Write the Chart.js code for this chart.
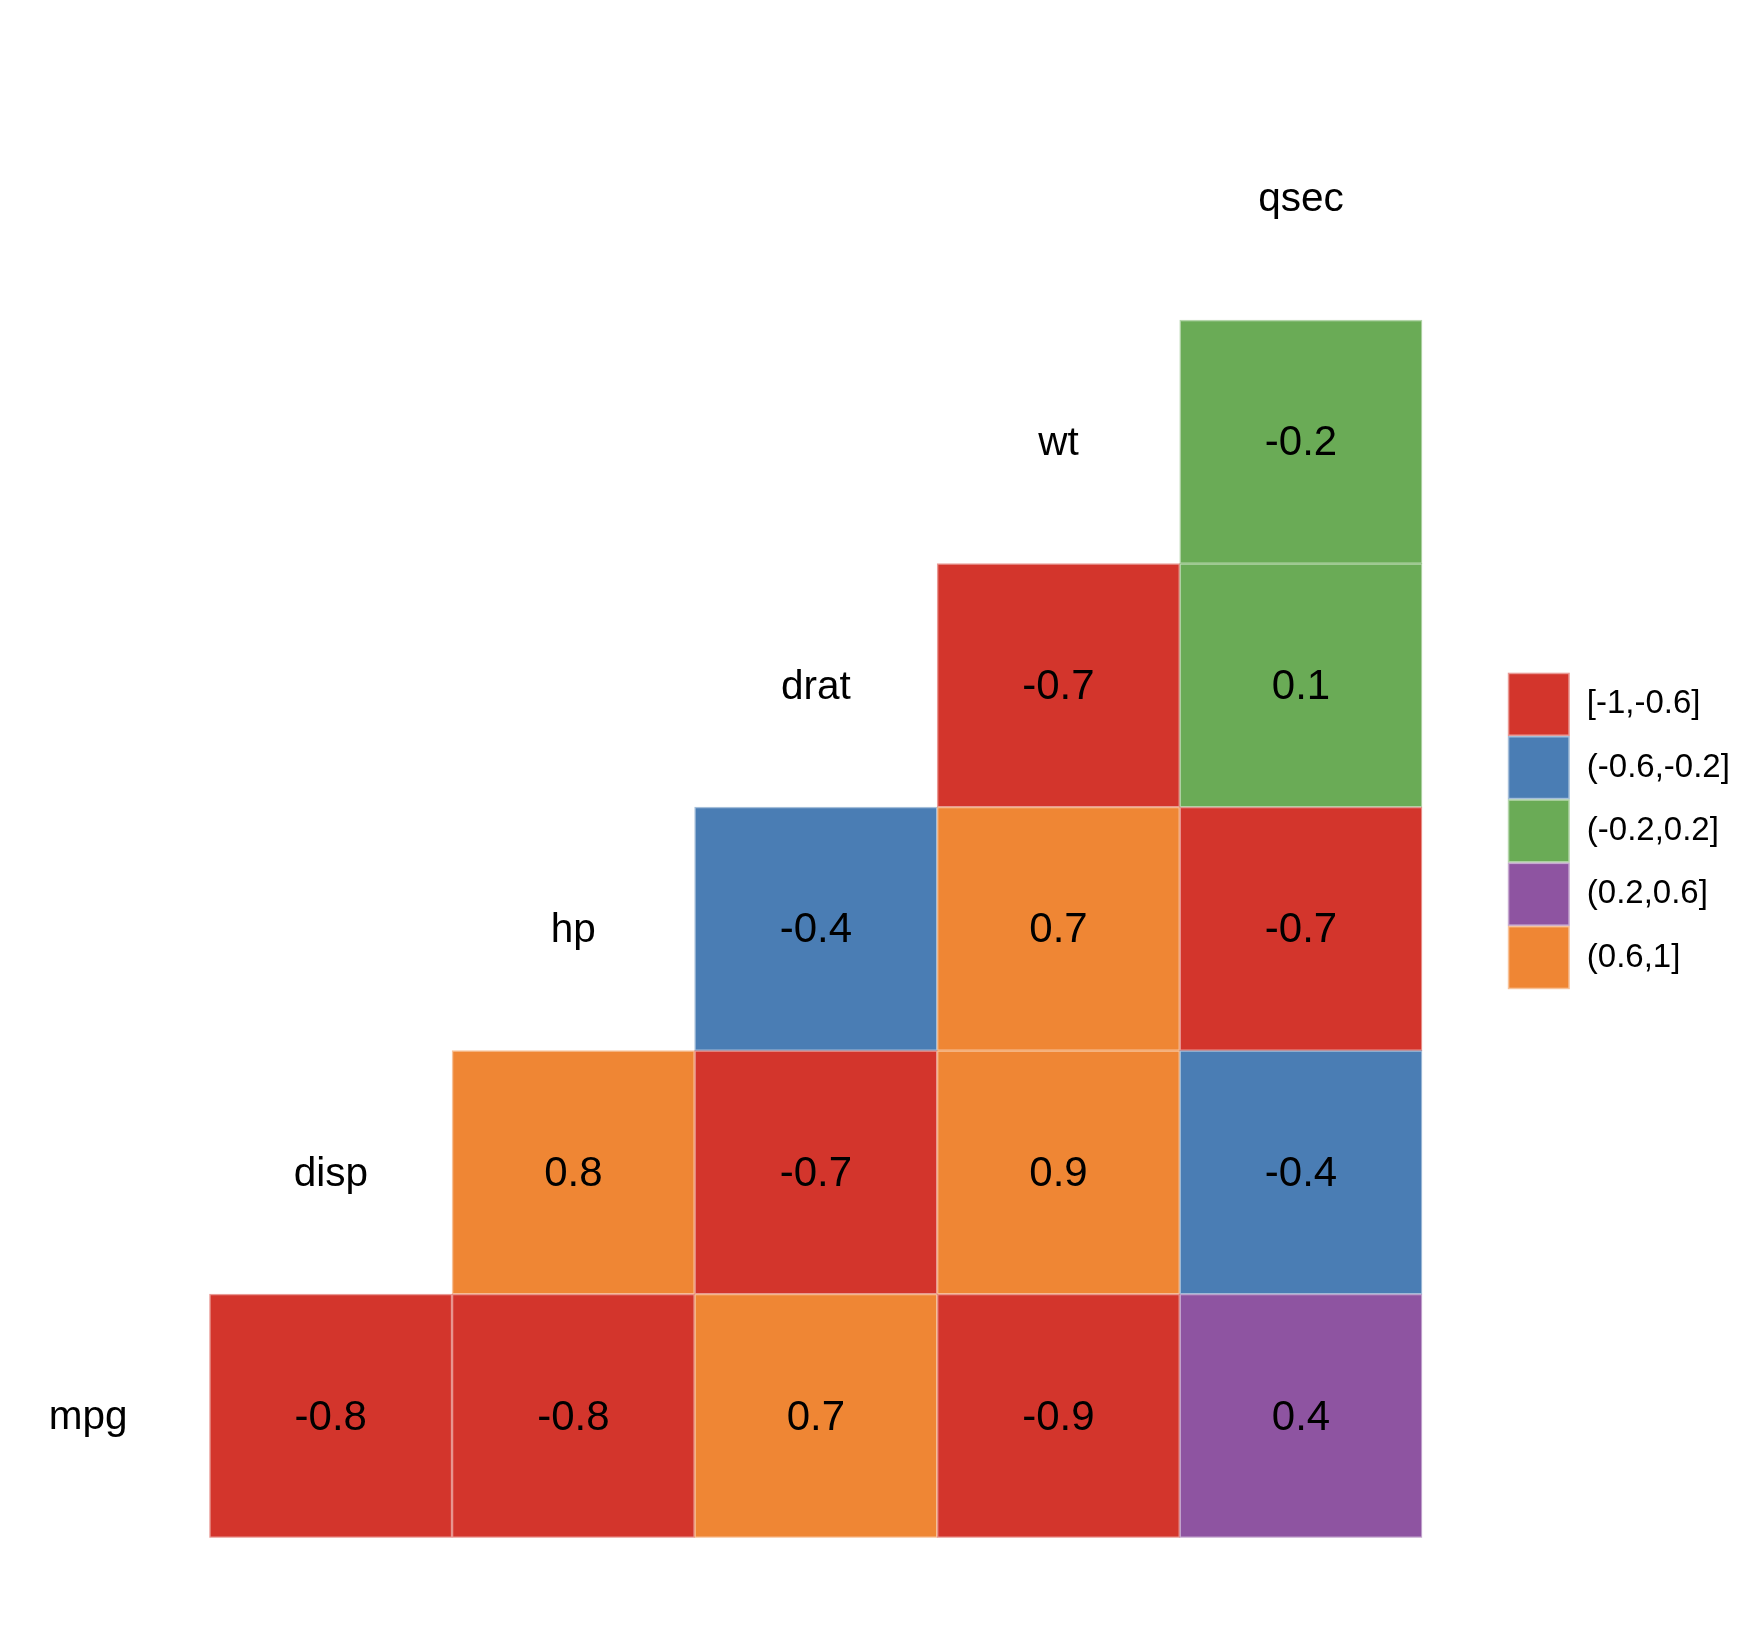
<!DOCTYPE html>
<html>
<head>
<meta charset="utf-8">
<title>Correlation matrix</title>
<script src="https://cdn.jsdelivr.net/npm/chart.js@4/dist/chart.umd.min.js"></script>
<style>
  html, body { margin: 0; padding: 0; background: #fff; }
  #wrap { width: 1738px; height: 1636px; }
</style>
</head>
<body>
<div id="wrap"><canvas id="corr" width="1738" height="1636"></canvas></div>
<script>
const variables = ['mpg', 'disp', 'hp', 'drat', 'wt', 'qsec'];

// correlation of each row variable with the variables to its right
const corrMpg = [-0.8, -0.8, 0.7, -0.9, 0.4];
const corrDisp = [0.8, -0.7, 0.9, -0.4];
const corrHp = [-0.4, 0.7, -0.7];
const corrDrat = [-0.7, 0.1];
const corrWt = [-0.2];

// colour class of each cell (index into binLabels)
const binMpg = [0, 0, 4, 0, 3];
const binDisp = [4, 0, 4, 1];
const binHp = [1, 4, 0];
const binDrat = [0, 2];
const binWt = [2];

const binLabels = ['[-1,-0.6]', '(-0.6,-0.2]', '(-0.2,0.2]', '(0.2,0.6]', '(0.6,1]'];
const binColors = ['#d3352c', '#4a7db4', '#6aab56', '#8e54a1', '#ef8634'];

const FONT = '"Liberation Sans", Arial, Helvetica, sans-serif';

const rows = [
  [corrMpg, binMpg],
  [corrDisp, binDisp],
  [corrHp, binHp],
  [corrDrat, binDrat],
  [corrWt, binWt],
];

// one floating-bar dataset per row, each cell spans row-0.5 .. row+0.5
const datasets = rows.map(([vals, bins], r) => ({
  label: variables[r],
  data: vals.map((v, k) => ({ x: r + 1 + k, y: [r - 0.5, r + 0.5], v })),
  backgroundColor: bins.map((b) => binColors[b]),
  borderColor: bins.map((b) => binColors[b] + '80'),
  borderWidth: 1.5,
  borderSkipped: false,
  barPercentage: 1,
  categoryPercentage: 1,
  grouped: false,
}));

const cellText = {
  id: 'cellText',
  afterDatasetsDraw(chart) {
    const { ctx, scales } = chart;
    ctx.save();
    ctx.fillStyle = '#000';
    ctx.textAlign = 'center';
    ctx.textBaseline = 'middle';
    ctx.font = `42px ${FONT}`;
    chart.data.datasets.forEach((ds) => {
      ds.data.forEach((d) => {
        const cy = (d.y[0] + d.y[1]) / 2;
        ctx.fillText(String(d.v), scales.x.getPixelForValue(d.x), scales.y.getPixelForValue(cy) + 2);
      });
    });
    // variable names on the diagonal
    ctx.font = `40.5px ${FONT}`;
    variables.forEach((name, i) => {
      ctx.fillText(name, scales.x.getPixelForValue(i), scales.y.getPixelForValue(i) + 2);
    });
    ctx.restore();
  },
};

const binLegend = {
  id: 'binLegend',
  afterDraw(chart) {
    const ctx = chart.ctx;
    const left = chart.chartArea.right + 85.5;
    const keyW = 62;
    const keyH = 63.3;
    const top = 672.7;
    ctx.save();
    ctx.font = `33px ${FONT}`;
    ctx.textBaseline = 'middle';
    ctx.textAlign = 'left';
    binLabels.forEach((lab, i) => {
      const y = top + i * keyH;
      ctx.fillStyle = binColors[i] + '80';
      ctx.fillRect(left, y, keyW, keyH);
      ctx.fillStyle = binColors[i];
      ctx.fillRect(left + 1.5, y + 1.5, keyW - 3, keyH - 3);
      ctx.fillStyle = '#000';
      ctx.fillText(lab, left + 79, y + keyH / 2);
    });
    ctx.restore();
  },
};

new Chart(document.getElementById('corr'), {
  type: 'bar',
  data: { datasets },
  options: {
    responsive: false,
    animation: false,
    layout: {
      padding: { left: 0, right: 315.7, top: 76.5, bottom: 98.3 },
    },
    plugins: {
      legend: { display: false },
      tooltip: { enabled: false },
    },
    scales: {
      x: {
        type: 'linear',
        min: -0.3637,
        max: 5.5,
        offset: false,
        display: false,
        ticks: { stepSize: 1, includeBounds: false },
        grid: { display: false },
      },
      y: {
        type: 'linear',
        min: -0.5,
        max: 5.5,
        display: false,
        grid: { display: false },
      },
    },
  },
  plugins: [cellText, binLegend],
});
</script>
</body>
</html>
